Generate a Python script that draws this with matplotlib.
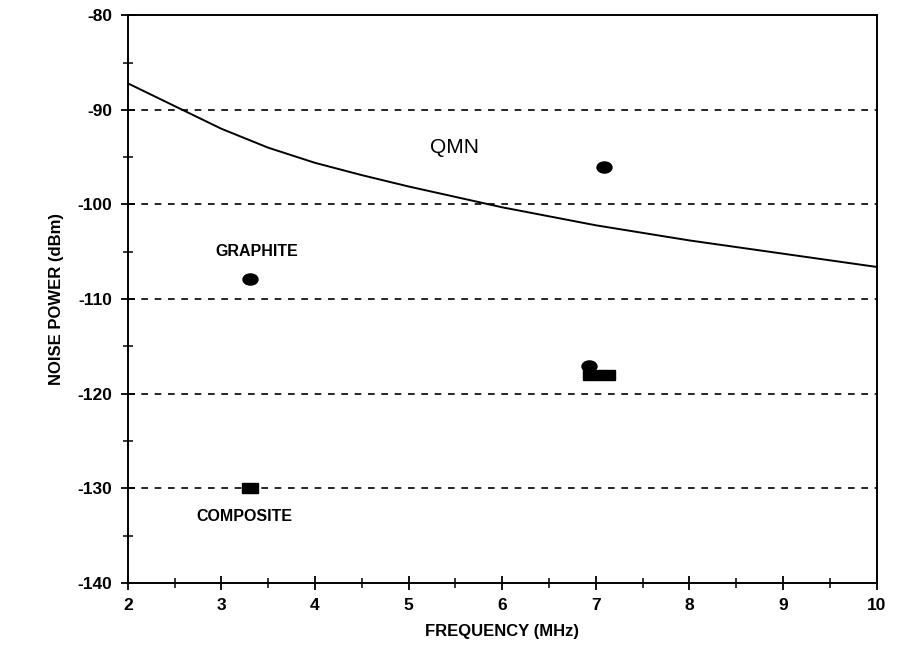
import matplotlib
matplotlib.use("Agg")
import matplotlib.pyplot as plt
from matplotlib.markers import MarkerStyle
from matplotlib.transforms import Affine2D

plt.rcParams["font.family"] = ["Liberation Sans", "DejaVu Sans"]
plt.rcParams["axes.unicode_minus"] = False

# QMN curve
qmn_freq = [2, 2.5, 3, 3.5, 4, 4.5, 5, 5.5, 6, 7, 8, 9, 10]
qmn_power = [-87.2, -89.6, -92.0, -94.0, -95.6, -96.9, -98.1, -99.2,
             -100.3, -102.2, -103.8, -105.2, -106.6]

# measured points
circle_freq = [3.31, 7.09, 6.93]
circle_power = [-107.9, -96.0, -117.1]
square_freq = [3.31, 6.95, 7.12]
square_power = [-130.0, -118.0, -118.0]

grid_levels = [-90, -100, -110, -120, -130]
x_ticks = [2, 3, 4, 5, 6, 7, 8, 9, 10]
y_ticks = [-140, -130, -120, -110, -100, -90, -80]

fig = plt.figure(figsize=(9, 6.61), dpi=100)
ax = fig.add_axes([0.142, 0.118, 0.832, 0.859])

for lvl in grid_levels:
    ax.axhline(lvl, color="black", linestyle=(0, (4, 4)), linewidth=1.2, zorder=1)

ax.plot(qmn_freq, qmn_power, color="black", linewidth=1.4, zorder=2)

oval = MarkerStyle("o", transform=Affine2D().scale(1.35, 1.0))
rect = MarkerStyle("s", transform=Affine2D().scale(1.5, 1.0))
ax.plot(circle_freq, circle_power, linestyle="none", marker=oval,
        markersize=8, color="black", zorder=3)
ax.plot(square_freq, square_power, linestyle="none", marker=rect,
        markersize=7.5, color="black", zorder=3)

ax.text(5.49, -94.0, "QMN", fontsize=15, ha="center", va="center")
ax.text(3.38, -105.0, "GRAPHITE", fontsize=11.5, fontweight="bold",
        ha="center", va="center")
ax.text(3.25, -133.0, "COMPOSITE", fontsize=11.5, fontweight="bold",
        ha="center", va="center")

ax.set_xlim(2, 10)
ax.set_ylim(-140, -80)
ax.set_xticks(x_ticks)
ax.set_yticks(y_ticks)
ax.set_xticks([x + 0.5 for x in x_ticks[:-1]], minor=True)
ax.set_yticks([y + 5 for y in y_ticks[:-1]], minor=True)
ax.tick_params(which="major", direction="inout", length=10, width=1.3,
               labelsize=12.5, pad=6)
ax.tick_params(which="minor", direction="inout", length=7, width=1.1)
for lab in ax.get_xticklabels() + ax.get_yticklabels():
    lab.set_fontweight("bold")
for s in ax.spines.values():
    s.set_linewidth(1.4)

ax.set_xlabel("FREQUENCY (MHz)", fontsize=12, fontweight="bold", labelpad=8)
ax.set_ylabel("NOISE POWER (dBm)", fontsize=12, fontweight="bold", labelpad=10)

fig.savefig("out.png", dpi=100)
